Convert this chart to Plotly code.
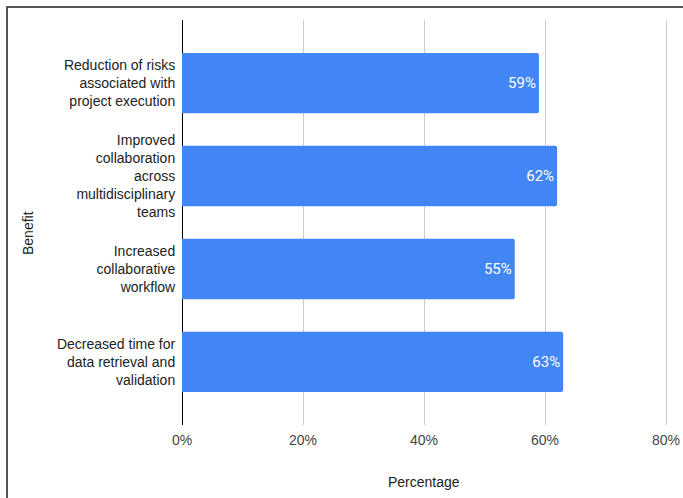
import plotly.graph_objects as go

categories = [
    "Reduction of risks<br>associated with<br>project execution",
    "Improved<br>collaboration<br>across<br>multidisciplinary<br>teams",
    "Increased<br>collaborative<br>workflow",
    "Decreased time for<br>data retrieval and<br>validation",
]
values = [0.59, 0.62, 0.55, 0.63]
x_ticks = [0, 0.2, 0.4, 0.6, 0.8]
x_tick_labels = ["0%", "20%", "40%", "60%", "80%"]

W, H = 683, 498
L, R, T, B = 182, 0, 20, 73
pw, ph = W - L - R, H - T - B

def px_x(px):
    return (px - L) / pw

def px_y(py):
    return (H - B - py) / ph

fig = go.Figure(go.Bar(
    y=categories,
    x=values,
    orientation="h",
    marker=dict(color="#4285F4", line=dict(width=0)),
    texttemplate="%{x:.0%}",
    textposition="inside",
    insidetextanchor="end",
    textfont=dict(color="white", size=15, family="Roboto"),
    hoverinfo="skip",
))

fig.update_layout(
    width=W, height=H,
    margin=dict(l=L, r=R, t=T, b=B, autoexpand=False),
    paper_bgcolor="white",
    plot_bgcolor="white",
    bargap=0.35,
    barcornerradius=2,
    showlegend=False,
    font=dict(family="Liberation Sans, Arial", size=14, color="#222"),
)

fig.update_xaxes(
    range=[0, (W - L) / 605],
    tickvals=x_ticks,
    ticktext=x_tick_labels,
    showgrid=True,
    gridcolor="#cccccc",
    gridwidth=1,
    zeroline=True,
    zerolinecolor="#000000",
    zerolinewidth=1,
    showline=False,
    tickfont=dict(size=14, color="#444"),
    ticks="",
    ticklabelstandoff=5,
    automargin=False,
)

fig.update_yaxes(
    categoryorder="array",
    categoryarray=categories,
    autorange=False,
    range=[3.68, -0.68],
    showgrid=False,
    zeroline=False,
    showline=False,
    ticks="outside",
    ticklen=3,
    tickcolor="rgba(0,0,0,0)",
    tickfont=dict(size=14, color="#222"),
    automargin=False,
)

fig.add_annotation(text="Percentage", xref="paper", yref="paper",
                   x=px_x(424), y=px_y(482), showarrow=False,
                   font=dict(size=14, color="#222"), xanchor="center", yanchor="middle")
fig.add_annotation(text="Benefit", xref="paper", yref="paper",
                   x=px_x(28), y=px_y(233), showarrow=False, textangle=-90,
                   font=dict(size=14, color="#222"), xanchor="center", yanchor="middle")

frame_color = "#555555"
fig.add_shape(type="line", xref="paper", yref="paper",
              x0=px_x(7), x1=px_x(W + 5), y0=px_y(7), y1=px_y(7),
              line=dict(color=frame_color, width=2))
fig.add_shape(type="line", xref="paper", yref="paper",
              x0=px_x(7), x1=px_x(7), y0=px_y(6), y1=px_y(H + 5),
              line=dict(color=frame_color, width=2))

fig.write_html("out.html")
